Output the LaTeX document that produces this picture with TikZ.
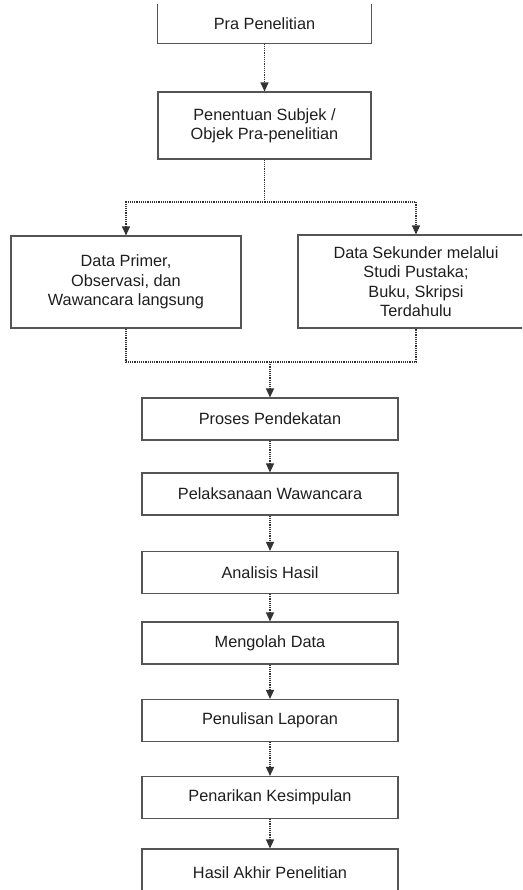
\documentclass[tikz,border=0pt]{standalone}
\usepackage{fontspec}
\setmainfont{Liberation Sans}
\usetikzlibrary{arrows.meta}
\definecolor{boxgray}{HTML}{555555}
\definecolor{linegray}{HTML}{333333}
\definecolor{txt}{HTML}{1E1E1E}
\begin{document}
\begin{tikzpicture}[x=1pt,y=-1pt,
  box/.style={draw=boxgray, line width=1.1pt, inner sep=0pt, align=center,
    font=\fontsize{16.3}{19.4}\selectfont, text=txt},
  boxline/.style={draw=boxgray, line width=1.1pt},
  chainbox/.style={box, minimum width=256, minimum height=42},
  link/.style={draw=linegray, line width=1.2pt, densely dotted},
  conn/.style={link, -{Triangle[width=8pt,length=9pt]}}]
\useasboundingbox (0,0) rectangle (522,890);
\clip (0,0) rectangle (522,890);

\node[box, draw=none, minimum width=213, minimum height=38] (pra) at (264.5,24) {Pra Penelitian};
\draw[boxline] (pra.north west) -- (pra.south west) -- (pra.south east) -- (pra.north east);

\node[box, minimum width=213, minimum height=67] (sub) at (264.5,125.5) {Penentuan Subjek /\\ Objek Pra-penelitian};
\node[box, minimum width=230, minimum height=92] (prim) at (126,282) {Data Primer,\\ Observasi, dan\\ Wawancara langsung};
\node[box, minimum width=236, minimum height=93] (sek) at (416,281.5) {Data Sekunder melalui\\ Studi Pustaka;\\ Buku, Skripsi\\ Terdahulu};

\node[chainbox] (pend) at (270,419) {Proses Pendekatan};
\node[chainbox] (pel) at (270,494) {Pelaksanaan Wawancara};
\node[chainbox] (anal) at (270,572.5) {Analisis Hasil};
\node[chainbox] (meng) at (270,643) {Mengolah Data};
\node[chainbox] (penu) at (270,720.5) {Penulisan Laporan};
\node[chainbox] (pena) at (270,797.5) {Penarikan Kesimpulan};
\node[chainbox, minimum height=48] (hasil) at (270,873) {Hasil Akhir Penelitian};

\coordinate (split) at (264.5,202);
\coordinate (merge) at (270,362);

\draw[conn] (pra.south) -- (sub.north);
\draw[conn] (sub.south) -- (split) -| (prim.north);
\draw[conn] (split) -| (sek.north);
\draw[link] (prim.south) |- (merge) -| (sek.south);
\draw[conn] (merge) -- (pend.north);
\draw[conn] (pend.south) -- (pel.north);
\draw[conn] (pel.south) -- (anal.north);
\draw[conn] (anal.south) -- (meng.north);
\draw[conn] (meng.south) -- (penu.north);
\draw[conn] (penu.south) -- (pena.north);
\draw[conn] (pena.south) -- (hasil.north);
\end{tikzpicture}
\end{document}
